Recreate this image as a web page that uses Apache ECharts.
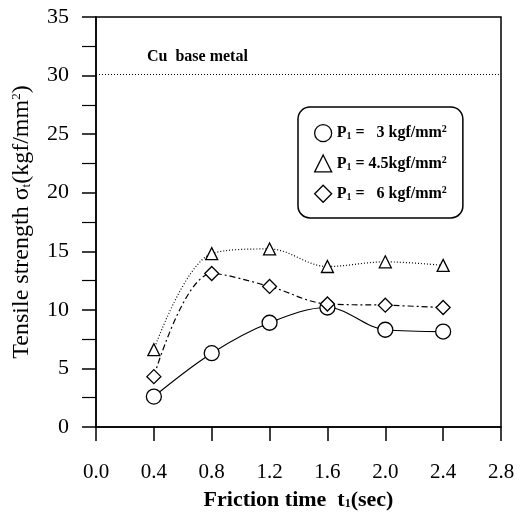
<!DOCTYPE html>
<html>
<head>
<meta charset="utf-8">
<script src="https://cdn.jsdelivr.net/npm/echarts@6/dist/echarts.min.js"></script>
<style>
html, body { margin: 0; padding: 0; background: #fff; }
#main { width: 520px; height: 515px; }
</style>
</head>
<body>
<div id="main"></div>
<script>
// data
var frictionTime = [0.4, 0.8, 1.2, 1.6, 2.0, 2.4];
var p3 = [2.6, 6.3, 8.9, 10.2, 8.3, 8.15];
var p45 = [6.6, 14.8, 15.2, 13.7, 14.1, 13.8];
var p6 = [4.3, 13.1, 12.0, 10.5, 10.4, 10.2];
var baseMetal = 30.1;
var xTicks = [0.0, 0.4, 0.8, 1.2, 1.6, 2.0, 2.4, 2.8];
var yTicks = [0, 5, 10, 15, 20, 25, 30, 35];

function pairs(ys) {
    return frictionTime.map(function (x, i) { return [x, ys[i]]; });
}

var serif = 'Liberation Serif';
var legendText = {
    p3: '{b|P}{sub|1}{b| =   3 kgf/mm}{sup|2}',
    p45: '{b|P}{sub|1}{b| = 4.5kgf/mm}{sup|2}',
    p6: '{b|P}{sub|1}{b| =   6 kgf/mm}{sup|2}'
};
var hollow = { color: '#fff', borderColor: '#000', borderWidth: 1.3 };

var myChart = echarts.init(document.getElementById('main'));
var option = {
    animation: false,
    backgroundColor: '#fff',
    grid: {
        left: 96, right: 19, top: 17, bottom: 88,
        outerBoundsMode: 'none',
        show: true, borderColor: '#000', borderWidth: 1.5
    },
    legend: {
        orient: 'vertical',
        left: 298, top: 107,
        padding: [17, 16, 15, 16],
        itemGap: 12,
        itemWidth: 17, itemHeight: 17,
        borderColor: '#000', borderWidth: 1.5, borderRadius: 12,
        data: [
            { name: 'p3', icon: 'circle', itemStyle: hollow },
            { name: 'p45', icon: 'triangle', itemStyle: hollow },
            { name: 'p6', icon: 'diamond', itemStyle: hollow }
        ],
        formatter: function (n) { return legendText[n]; },
        textStyle: {
            rich: {
                b: { fontFamily: serif, fontWeight: 'bold', fontSize: 16, color: '#000' },
                sub: { fontFamily: serif, fontWeight: 'bold', fontSize: 10, color: '#000', verticalAlign: 'bottom', padding: [6, 0, 0, 0] },
                sup: { fontFamily: serif, fontWeight: 'bold', fontSize: 10, color: '#000', verticalAlign: 'top', padding: [0, 0, 7, 0] }
            }
        }
    },
    xAxis: {
        type: 'value',
        min: 0, max: 2.8, interval: 0.4,
        name: '{b|Friction time  t}{sub|1}{b|(sec)}',
        nameLocation: 'middle',
        nameGap: 62,
        nameTextStyle: {
            rich: {
                b: { fontFamily: serif, fontWeight: 'bold', fontSize: 22, color: '#000' },
                sub: { fontFamily: serif, fontWeight: 'bold', fontSize: 12, color: '#000', padding: [8, 0, 0, 0] }
            }
        },
        axisLine: { lineStyle: { color: '#000', width: 1.5 } },
        axisTick: { inside: false, length: 14, lineStyle: { color: '#000', width: 1.5 } },
        axisLabel: {
            margin: 35,
            fontFamily: serif, fontSize: 21, color: '#000',
            formatter: function (v) { return v.toFixed(1); }
        },
        splitLine: { show: false }
    },
    yAxis: {
        type: 'value',
        min: 0, max: 35, interval: 5,
        name: '{b|Tensile strength σ}{sub|t}{b|(kgf/mm}{sup|2}{b|)}',
        nameLocation: 'middle',
        nameGap: 62,
        nameTextStyle: {
            rich: {
                b: { fontFamily: serif, fontSize: 24, color: '#000' },
                sub: { fontFamily: serif, fontSize: 13, color: '#000', padding: [9, 0, 0, 0] },
                sup: { fontFamily: serif, fontSize: 13, color: '#000', padding: [0, 0, 10, 0] }
            }
        },
        axisLine: { lineStyle: { color: '#000', width: 1.5 } },
        axisTick: { inside: false, length: 14, lineStyle: { color: '#000', width: 1.5 } },
        minorTick: { show: true, splitNumber: 2, length: 14, lineStyle: { color: '#000', width: 1.2 } },
        axisLabel: {
            margin: 27,
            fontFamily: serif, fontSize: 22, color: '#000',
            formatter: function (v) { return yTicks.indexOf(v) >= 0 ? String(v) : ''; }
        },
        splitLine: { show: false }
    },
    graphic: [{
        type: 'text',
        left: 147, top: 49,
        style: { text: 'Cu  base metal', font: 'bold 16px "Liberation Serif"', fill: '#000' }
    }],
    series: [
        {
            name: 'p3', type: 'line', smooth: 0.35,
            data: pairs(p3),
            symbol: 'circle', symbolSize: 15,
            itemStyle: hollow,
            lineStyle: { color: '#000', width: 1.2, type: 'solid' },
            z: 3
        },
        {
            name: 'p45', type: 'line', smooth: 0.35,
            data: pairs(p45),
            symbol: 'triangle', symbolSize: 12,
            itemStyle: hollow,
            lineStyle: { color: '#000', width: 1.2, type: [1, 2] },
            markLine: {
                silent: true, symbol: 'none',
                label: { show: false },
                lineStyle: { color: '#000', width: 1, type: [1, 2] },
                data: [{ yAxis: baseMetal }]
            },
            z: 3
        },
        {
            name: 'p6', type: 'line', smooth: 0.35,
            data: pairs(p6),
            symbol: 'diamond', symbolSize: 14,
            itemStyle: hollow,
            lineStyle: { color: '#000', width: 1.2, type: [6, 3, 2, 3] },
            z: 3
        }
    ]
};
myChart.setOption(option);
</script>
</body>
</html>
